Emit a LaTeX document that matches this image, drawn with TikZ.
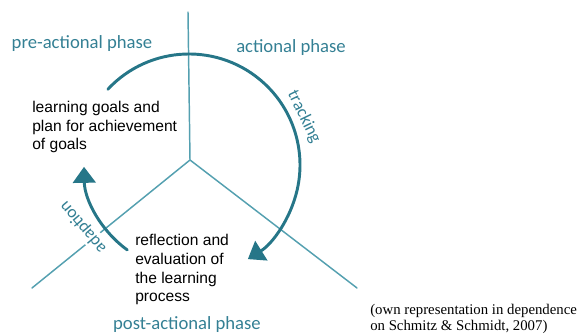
\documentclass[tikz,border=0pt]{standalone}
\usepackage{fontspec}
\setmainfont{Liberation Sans}
\newfontfamily\phasefont{Carlito}
\newfontfamily\citefont{Liberation Serif}
\usetikzlibrary{arrows.meta,positioning}
\definecolor{arcteal}{RGB}{38,118,136}
\definecolor{lineteal}{RGB}{84,160,176}
\definecolor{phaseteal}{RGB}{52,128,148}

\begin{document}
\begin{tikzpicture}[x=0.75pt,y=0.75pt,line cap=round,line join=round,
  spoke/.style={draw=lineteal,line width=1.1pt},
  cyclearc/.style={draw=arcteal,line width=2.2pt,-{Triangle[length=12pt,width=17pt]}},
  phase/.style={text=phaseteal,font=\phasefont\fontsize{14}{16}\selectfont,inner sep=0pt},
  arclabel/.style={phase,font=\phasefont\fontsize{13}{15}\selectfont},
  body/.style={align=left,inner sep=0pt,font=\fontsize{11.7}{14.2}\selectfont},
  source/.style={align=left,inner sep=0pt,font=\citefont\fontsize{11.1}{12}\selectfont}]
  \useasboundingbox (0,0) rectangle (587,334);
  % the three phases meet in J
  \coordinate (J) at (190,174);
  \coordinate (T) at (188,322);
  \coordinate (LL) at (32,46);
  \coordinate (LR) at (357,46);
  \coordinate (O) at (189,169);
  \draw[spoke] (J)--(T) (J)--(LL) (J)--(LR);
  \node[arclabel,rotate=130,fill=white,inner sep=1.5pt] (adapt) at (83,107) {adaption};
  \node[arclabel,rotate=-64] (track) at (304,217) {tracking};
  % cycle arrows
  \draw[cyclearc] (O) ++(137:111) arc[start angle=137,end angle=-58,radius=111];
  \draw[cyclearc] (O) ++(234:105) arc[start angle=234,end angle=181,radius=105];
  \node[phase,anchor=base] (pre) at (82,285) {pre-actional phase};
  \node[phase,anchor=base] (act) at (291,281) {actional phase};
  \node[phase,anchor=base] (post) at (187,4) {post-actional phase};
  % base anchor sits on the last line
  \node[body,anchor=base west] (goals) at (32,184) {learning goals and\\plan for achievement\\of goals};
  \node[body,anchor=base west] (reflect) at (135,32) {reflection and\\evaluation of\\the learning\\process};
  \node[source,anchor=base west] (src) at (370,3) {(own representation in dependence\\on Schmitz \& Schmidt, 2007)};
\end{tikzpicture}
\end{document}
